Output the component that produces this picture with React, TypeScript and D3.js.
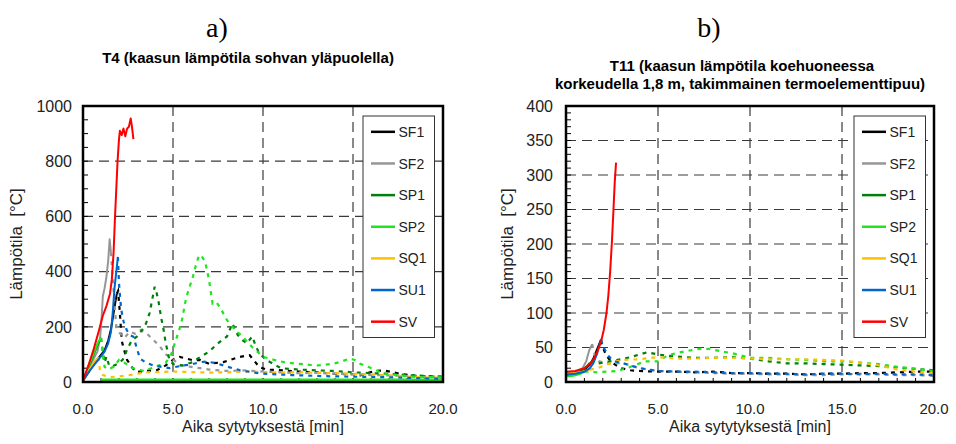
import * as d3 from 'd3';

type Pt = [number, number];

const seriesNames = ['SF1', 'SF2', 'SP1', 'SP2', 'SQ1', 'SU1', 'SV'];
const seriesColors = ['#000000', '#969696', '#00800a', '#1ee61e', '#ffc000', '#0066cc', '#ff0000'];
const xTicks = [0, 5, 10, 15, 20];

// a) T4, [min, °C]
const aSF1: Pt[] = [[0, 5], [0.3, 35], [0.6, 65], [0.9, 90], [1.2, 115], [1.4, 150], [1.55, 190], [1.7, 250], [1.8, 290], [1.88, 320],
  [1.95, 330], [2.05, 250], [2.15, 150], [2.26, 121], [2.45, 80], [2.7, 55], [2.96, 36], [3.5, 40], [4.07, 42], [4.6, 60], [5.1, 85], [5.37, 91],
  [6.1, 79], [6.5, 80], [7.0, 66], [7.8, 72], [8.7, 91], [9.26, 97], [9.8, 54], [10.2, 45], [11.1, 42], [12.0, 38], [13.0, 35], [13.9, 30],
  [15.0, 28], [15.4, 24], [16.2, 40], [16.7, 42], [17.6, 30], [18.5, 22], [19.8, 18], [20, 17]];
const aSF2: Pt[] = [[0, 5], [0.4, 60], [0.8, 110], [0.95, 160], [1.05, 250], [1.1, 310], [1.2, 340], [1.3, 380], [1.4, 440], [1.48, 517], [1.55, 470],
  [1.7, 330], [1.85, 200], [2.0, 180], [2.3, 160], [2.6, 182], [2.9, 175], [3.2, 188], [3.5, 178], [3.8, 160], [4.28, 128], [4.6, 100],
  [4.8, 92], [5.4, 60], [6.0, 55], [6.5, 50], [7.0, 45], [8.0, 40], [9.0, 42], [10.0, 38], [11.0, 35], [12.0, 32], [13.0, 33], [14.0, 30],
  [15.0, 28], [16.0, 25], [17.0, 24], [18.0, 22], [19.0, 20], [20, 18]];
const aSP1: Pt[] = [[0, 5], [0.3, 50], [0.6, 100], [0.85, 140], [1.0, 160],
  [1.1, 110], [1.2, 70], [1.3, 92], [1.45, 60], [1.6, 56], [1.9, 65], [2.2, 80], [2.4, 110], [2.7, 150], [3.0, 165], [3.3, 190], [3.5, 212],
  [3.7, 250], [3.85, 300], [3.98, 345], [4.1, 320], [4.2, 290], [4.35, 230], [4.45, 200], [4.6, 140], [4.8, 80], [5.0, 65], [5.5, 60],
  [6.0, 70], [6.5, 90], [7.0, 110], [7.5, 140], [8.0, 165], [8.3, 212], [8.6, 170], [8.9, 150], [9.1, 140], [9.4, 165], [9.6, 130],
  [9.8, 103], [10.2, 79], [11.0, 50], [12.0, 45], [13.0, 42], [14.0, 40], [15.0, 35], [16.0, 32], [17.0, 30], [18.0, 25], [19.0, 22], [20, 20]];
const aSP2: Pt[] = [[0, 5], [0.3, 55], [0.6, 105], [0.85, 145], [1.0, 160],
  [1.1, 100], [1.2, 55], [1.4, 45], [1.7, 55], [2.0, 80], [2.3, 70], [2.6, 55], [3.0, 45], [3.4, 40], [3.8, 50], [4.2, 60], [4.6, 70],
  [4.9, 100], [5.2, 160], [5.46, 212], [5.74, 308], [6.0, 360], [6.1, 380], [6.3, 430], [6.45, 460], [6.6, 455], [6.75, 440], [6.85, 417],
  [7.0, 370], [7.2, 284], [7.4, 290], [7.6, 272], [8.0, 224], [8.3, 200], [8.6, 180], [8.9, 163], [9.2, 140], [9.4, 127], [10.0, 91],
  [10.7, 79], [11.3, 70], [12.0, 66], [12.6, 62], [13.1, 60], [13.9, 66], [14.4, 75], [14.8, 85], [15.1, 80], [15.4, 66], [16.1, 48],
  [16.7, 30], [17.6, 24], [18.5, 18], [19.6, 18], [20, 16]];
const aSQ1: Pt[] = [[0, 5], [0.3, 40], [0.6, 70], [0.85, 90],
  [0.95, 40], [1.1, 25], [1.5, 18], [2.0, 20], [2.5, 24], [3.0, 30], [3.5, 35], [4.0, 36], [5.0, 38], [6.0, 36], [7.0, 34], [8.0, 35],
  [9.0, 38], [10.0, 36], [11.0, 34], [12.0, 35], [13.0, 33], [14.0, 32], [15.0, 30], [16.0, 28], [17.0, 24], [18.0, 20], [19.0, 16], [20, 15]];
const aSU1: Pt[] = [[0, 5], [0.3, 35], [0.6, 60], [0.9, 85], [1.2, 110], [1.4, 140], [1.55, 180], [1.65, 250], [1.75, 340], [1.85, 400], [1.94, 453],
  [2.0, 357], [2.07, 300], [2.13, 260], [2.25, 220], [2.43, 188], [2.6, 170], [2.8, 164], [3.0, 120], [3.17, 85], [3.5, 70], [3.9, 60],
  [4.28, 56], [4.8, 50], [5.4, 58], [6.1, 65], [6.5, 72], [6.87, 74], [7.4, 68], [8.0, 56], [8.7, 43], [9.8, 31], [11.6, 25], [13.5, 21],
  [15.3, 19], [17.2, 17], [19.0, 13], [20, 12]];
const aSV: Pt[] = [[0, 5], [0.3, 60], [0.6, 120], [0.9, 190], [1.1, 240], [1.3, 275], [1.5, 320], [1.6, 370], [1.7, 470], [1.78, 600],
  [1.85, 700], [1.92, 800], [2.0, 880], [2.05, 910], [2.15, 895], [2.25, 918], [2.35, 890], [2.45, 918], [2.55, 925], [2.65, 955],
  [2.72, 925], [2.8, 880]];
const aSP2Floor: Pt[] = [[1.0, 8], [20, 8]];
const aSplit = [1.88, 1.55, 1.0, 1.0, 0.85, 1.94, 99];

// b) T11
const bSF1: Pt[] = [[0, 14], [0.5, 15], [1.0, 18], [1.3, 25], [1.5, 35], [1.7, 48], [1.88, 60],
  [2.0, 50], [2.2, 38], [2.5, 28], [3.0, 20], [3.5, 17], [4.0, 16], [5.0, 15], [6.0, 15], [7.0, 14], [8.0, 15], [9.0, 13], [10.0, 13],
  [11.0, 12], [12.0, 12], [13.0, 11], [14.0, 12], [15.0, 12], [16.0, 13], [17.0, 13], [18.0, 14], [19.0, 15], [20, 15]];
const bSF2: Pt[] = [[0, 12], [0.5, 14], [0.9, 20], [1.1, 30], [1.25, 45], [1.42, 55],
  [1.55, 40], [1.8, 30], [2.1, 28], [2.5, 26], [3.0, 28], [3.5, 24], [4.0, 20], [4.5, 18], [5.0, 16], [6.0, 15], [7.0, 14], [8.0, 13],
  [9.0, 12], [10.0, 12], [11.0, 11], [12.0, 11], [13.0, 10], [14.0, 10], [15.0, 11], [16.0, 12], [17.0, 11], [18.0, 10], [19.0, 10], [20, 9]];
const bSP1: Pt[] = [[0, 10], [0.5, 12], [0.9, 17], [1.1, 22], [1.3, 28],
  [1.6, 26], [2.0, 28], [2.4, 30], [3.0, 33], [3.5, 36], [4.0, 40], [4.4, 43], [5.0, 40], [5.5, 38], [6.0, 37], [7.0, 35], [8.0, 35],
  [9.0, 36], [10.0, 34], [11.0, 30], [12.0, 27], [13.0, 27], [14.0, 26], [15.0, 25], [16.0, 24], [17.0, 23], [18.0, 21], [19.0, 19], [20, 17]];
const bSP2: Pt[] = [[0, 8], [0.4, 9], [0.8, 12], [1.0, 15],
  [1.3, 15], [1.7, 14], [2.2, 15], [2.8, 16], [3.3, 20], [3.8, 25], [4.3, 30], [5.0, 30], [5.5, 38], [6.0, 42], [6.6, 45], [7.2, 48],
  [7.8, 48], [8.5, 44], [9.0, 42], [10.0, 35], [11.0, 35], [12.0, 33], [13.0, 32], [14.0, 30], [15.0, 30], [16.0, 28], [17.0, 26],
  [18.0, 22], [19.0, 19], [20, 16]];
const bSQ1: Pt[] = [[0, 12], [0.5, 13], [0.9, 15], [1.3, 18],
  [1.7, 20], [2.2, 25], [2.7, 30], [3.2, 32], [4.0, 33], [5.0, 36], [6.0, 34], [7.0, 34], [8.0, 35], [9.0, 35], [10.0, 34], [11.0, 33],
  [12.0, 33], [13.0, 33], [14.0, 32], [15.0, 31], [16.0, 28], [17.0, 24], [18.0, 18], [19.0, 15], [20, 13]];
const bSU1: Pt[] = [[0, 11], [0.5, 12], [1.0, 15], [1.3, 20], [1.5, 28], [1.7, 42], [1.9, 62],
  [2.05, 50], [2.3, 38], [2.6, 30], [3.0, 28], [3.5, 24], [4.0, 20], [4.5, 18], [5.0, 16], [6.0, 15], [7.0, 15], [8.0, 14], [9.0, 13],
  [10.0, 13], [11.0, 12], [12.0, 12], [13.0, 11], [14.0, 12], [15.0, 12], [16.0, 11], [17.0, 12], [18.0, 11], [19.0, 11], [20, 10]];
const bSV: Pt[] = [[0, 15], [0.5, 16], [1.0, 20], [1.3, 26], [1.5, 33], [1.7, 44], [1.9, 58], [2.05, 75], [2.2, 100], [2.3, 125],
  [2.4, 160], [2.5, 205], [2.58, 250], [2.65, 290], [2.72, 318]];
const bSplit = [1.88, 1.42, 1.3, 1.0, 1.3, 1.9, 99];

const FONT = 'Arial, "Liberation Sans", sans-serif';

type PanelProps = {
  x0: number; x1: number; y0: number; y1: number;
  yMax: number; yStep: number; yMinor: number; labelGap: number; yTitleX: number;
  data: Pt[][]; splits: number[]; extra?: { pts: Pt[]; color: string }[];
};

function Panel({ x0, x1, y0, y1, yMax, yStep, yMinor, labelGap, yTitleX, data, splits, extra = [] }: PanelProps) {
  const x = d3.scaleLinear().domain([0, 20]).range([x0, x1]);
  const y = d3.scaleLinear().domain([0, yMax]).range([y1, y0]);
  const line = d3.line<Pt>().x(d => x(d[0])).y(d => y(d[1]));
  const yTicks = d3.range(0, yMax + 0.001, yStep);
  const yMinorTicks = d3.range(0, yMax + 0.001, yMinor);
  const xMinorTicks = d3.range(0, 20.001, 1);
  const lx = x1 - 80;
  const ly0 = y0 + 10;
  const ly1 = y1 - 44.5;
  const rowH = (ly1 - ly0) / 7;

  return (
    <g>
      {/* grid */}
      {xTicks.slice(1, -1).map(t => (
        <line key={'gx' + t} x1={x(t)} x2={x(t)} y1={y0} y2={y1} stroke="#3a3a3a" strokeWidth={1.2} strokeDasharray="10,6" />
      ))}
      {yTicks.slice(1, -1).map(t => (
        <line key={'gy' + t} x1={x0} x2={x1} y1={y(t)} y2={y(t)} stroke="#3a3a3a" strokeWidth={1.2} strokeDasharray="10,6" />
      ))}
      {/* minor ticks */}
      {yMinorTicks.map(t => (
        <line key={'my' + t} x1={x0} x2={x0 + 5} y1={y(t)} y2={y(t)} stroke="#000" strokeWidth={1} />
      ))}
      {xMinorTicks.map(t => (
        <line key={'mx' + t} x1={x(t)} x2={x(t)} y1={y1} y2={y1 - 4} stroke="#000" strokeWidth={1} />
      ))}
      {/* series */}
      {extra.map((e, i) => (
        <path key={'e' + i} d={line(e.pts) || ''} fill="none" stroke={e.color} strokeWidth={2.5} />
      ))}
      {data.map((pts, i) => {
        const s = splits[i];
        const solid = pts.filter(p => p[0] <= s);
        const dashed = pts.filter(p => p[0] >= s);
        return (
          <g key={'s' + i}>
            {dashed.length > 1 && (
              <path d={line(dashed) || ''} fill="none" stroke={seriesColors[i]} strokeWidth={2.2} strokeDasharray="4,5" />
            )}
            <path d={line(solid) || ''} fill="none" stroke={seriesColors[i]} strokeWidth={2} strokeLinejoin="round" />
          </g>
        );
      })}
      {/* frame */}
      <rect x={x0} y={y0} width={x1 - x0} height={y1 - y0} fill="none" stroke="#000" strokeWidth={2.5} />
      {/* y tick labels */}
      {yTicks.map(t => (
        <text key={'yl' + t} x={x0 - labelGap} y={y(t)} dy="0.36em" textAnchor="end" fontSize={16} fontFamily={FONT} fill="#222">
          {t}
        </text>
      ))}
      {xTicks.map(t => (
        <text key={'xl' + t} x={x(t)} y={413.5} textAnchor="middle" fontSize={15} fontFamily={FONT} fill="#222">
          {d3.format('.1f')(t)}
        </text>
      ))}
      <text x={(x0 + x1) / 2} y={432} textAnchor="middle" fontSize={16} fontFamily={FONT} fill="#222">
        Aika sytytyksestä [min]
      </text>
      <text transform={`translate(${yTitleX},${(y0 + y1) / 2}) rotate(-90)`} textAnchor="middle" fontSize={17} fontFamily={FONT} fill="#222" xmlSpace="preserve">
        {'Lämpötila  [°C]'}
      </text>
      {/* legend */}
      <rect x={lx} y={ly0} width={71.5} height={ly1 - ly0} fill="#fff" stroke="#333" strokeWidth={1} />
      {seriesNames.map((n, i) => {
        const yy = ly0 + rowH * (i + 0.5);
        return (
          <g key={n}>
            <line x1={lx + 8} x2={lx + 32} y1={yy} y2={yy} stroke={seriesColors[i]} strokeWidth={2.5} />
            <text x={lx + 35.5} y={yy} dy="0.36em" fontSize={14} fontFamily={FONT} fill="#222">{n}</text>
          </g>
        );
      })}
    </g>
  );
}

export default function App() {
  return (
    <svg width={956} height={444} style={{ position: 'absolute', left: 0, top: 0, background: '#fff' }}>
      <text x={217} y={37} textAnchor="middle" fontSize={28} fontFamily='"Liberation Serif", "Times New Roman", serif'>a)</text>
      <text x={709} y={37} textAnchor="middle" fontSize={28} fontFamily='"Liberation Serif", "Times New Roman", serif'>b)</text>
      <text x={248} y={63} textAnchor="middle" fontSize={15} fontWeight="bold" fontFamily={FONT}>
        T4 (kaasun lämpötila sohvan yläpuolella)
      </text>
      <text x={742} y={71} textAnchor="middle" fontSize={15} fontWeight="bold" fontFamily={FONT}>
        T11 (kaasun lämpötila koehuoneessa
      </text>
      <text x={740} y={89} textAnchor="middle" fontSize={15} fontWeight="bold" fontFamily={FONT}>
        korkeudella 1,8 m, takimmainen termoelementtipuu)
      </text>
      <Panel x0={83} x1={443} y0={106} y1={382} yMax={1000} yStep={200} yMinor={50} labelGap={11} yTitleX={22}
        data={[aSF1, aSF2, aSP1, aSP2, aSQ1, aSU1, aSV]} splits={aSplit}
        extra={[{ pts: aSP2Floor, color: seriesColors[3] }]} />
      <Panel x0={566} x1={934} y0={106} y1={382} yMax={400} yStep={50} yMinor={10} labelGap={13} yTitleX={513}
        data={[bSF1, bSF2, bSP1, bSP2, bSQ1, bSU1, bSV]} splits={bSplit} />
    </svg>
  );
}
